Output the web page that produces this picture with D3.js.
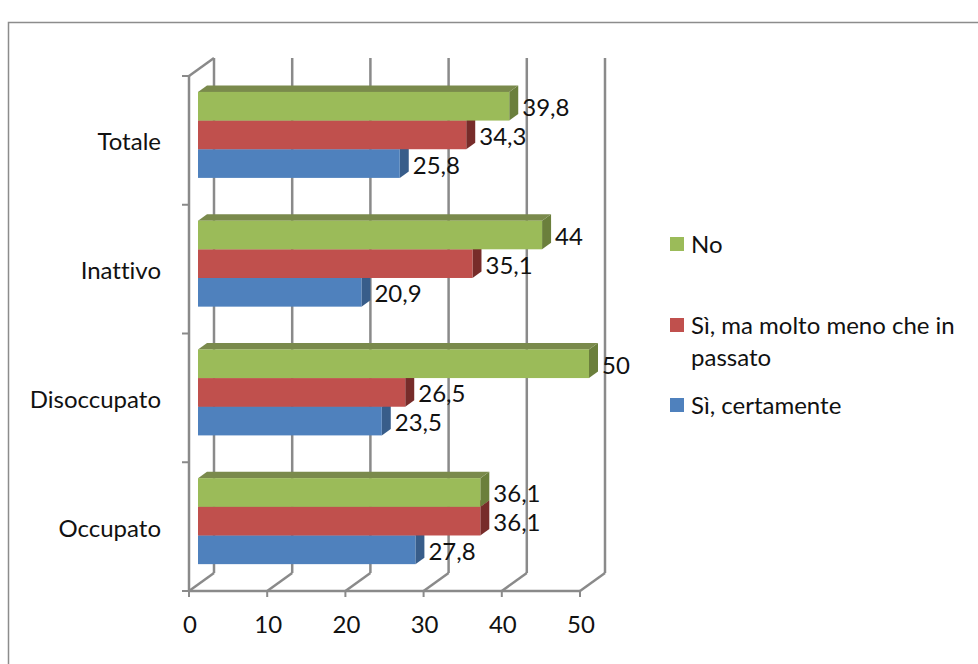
<!DOCTYPE html>
<html>
<head>
<meta charset="utf-8">
<script src="https://cdn.jsdelivr.net/npm/d3@7/dist/d3.min.js"></script>
<style>
  html, body { margin: 0; padding: 0; background: #fff; }
  svg { display: block; font-family: Lato, "Open Sans", sans-serif; font-variant-ligatures: none; }
  text { fill: #111; }
</style>
</head>
<body>
<svg id="chart" width="978" height="664"></svg>
<script>
// Categories, top to bottom
const categories = ["Totale", "Inattivo", "Disoccupato", "Occupato"];
// Series, drawn top to bottom inside each group
const seriesNames = ["No", "Sì, ma molto meno che in passato", "Sì, certamente"];
const seriesNo = [39.8, 44, 50, 36.1];
const seriesMa = [34.3, 35.1, 26.5, 36.1];
const seriesCert = [25.8, 20.9, 23.5, 27.8];
const xTicks = [0, 10, 20, 30, 40, 50];

const seriesValues = [seriesNo, seriesMa, seriesCert];
const faceColors = ["#9bbb59", "#c0504d", "#4f81bd"];
const sideColors = ["#6b7f3c", "#772c2a", "#385d8a"];
const topColors  = ["#7a8a4c", "#8f3c3a", "#3c6495"];

const FS = 24;
const svg = d3.select("#chart");

// Front plane of the 3D box
const x = d3.scaleLinear().domain([0, 50]).range([189, 580]);
const yTop = 76, yBot = 591;
const y = d3.scaleBand().domain(categories).range([yTop, yBot])
  .paddingInner(0.332).paddingOuter(0.166);
const ySub = d3.scaleBand().domain(d3.range(seriesNames.length)).range([0, y.bandwidth()]);

// Depth vector (front to back wall)
const DX = 25, DY = -18;
const grid = "#8a8a8a";

// Outer frame
svg.append("rect").attr("x", 8.5).attr("y", 22.5).attr("width", 1000).attr("height", 700)
  .attr("fill", "none").attr("stroke", "#8c8c8c").attr("stroke-width", 1.5);

const g = svg.append("g");

// Back wall gridlines and floor diagonals
xTicks.forEach(t => {
  g.append("line")
    .attr("x1", x(t) + DX).attr("x2", x(t) + DX)
    .attr("y1", yTop + DY).attr("y2", yBot + DY)
    .attr("stroke", grid).attr("stroke-width", 2.5);
  g.append("line")
    .attr("x1", x(t)).attr("y1", yBot)
    .attr("x2", x(t) + DX).attr("y2", yBot + DY)
    .attr("stroke", grid).attr("stroke-width", 2.5);
});
// Side wall top edge and front edge
g.append("line").attr("x1", x(0)).attr("y1", yTop).attr("x2", x(0) + DX).attr("y2", yTop + DY)
  .attr("stroke", grid).attr("stroke-width", 2.5);
g.append("line").attr("x1", x(0)).attr("y1", yTop).attr("x2", x(0)).attr("y2", yBot)
  .attr("stroke", grid).attr("stroke-width", 2.5);
// Front floor edge (value axis)
g.append("line").attr("x1", x(0)).attr("y1", yBot).attr("x2", x(50)).attr("y2", yBot)
  .attr("stroke", grid).attr("stroke-width", 2.5);
xTicks.forEach(t => {
  g.append("line").attr("x1", x(t)).attr("x2", x(t)).attr("y1", yBot).attr("y2", yBot + 6)
    .attr("stroke", grid).attr("stroke-width", 2);
});
// Category axis ticks
const catEdges = categories.map(c => y(c) - y.step() * y.paddingInner() / 2).concat([yBot]);
catEdges.forEach(v => {
  g.append("line").attr("x1", x(0) - 7).attr("x2", x(0)).attr("y1", v).attr("y2", v)
    .attr("stroke", grid).attr("stroke-width", 2);
});

// Bars sit at a depth fraction between the front plane and the back wall
const d0 = 0.36, d1 = 0.72;
const ox = d0 * DX, oy = d0 * DY + 1;
const ddx = (d1 - d0) * DX, ddy = (d1 - d0) * DY;

const bars = svg.append("g");
categories.forEach((cat, ci) => {
  // bottom series first so the bar above covers the side face beneath it
  for (let si = seriesNames.length - 1; si >= 0; si--) {
    const v = seriesValues[si][ci];
    const x0 = x(0) + ox, x1 = x(v) + ox;
    const t = y(cat) + ySub(si) + oy, b = t + ySub.bandwidth();
    bars.append("path")
      .attr("d", `M${x1},${t}L${x1 + ddx},${t + ddy}L${x1 + ddx},${b + ddy}L${x1},${b}Z`)
      .attr("fill", sideColors[si]);
    bars.append("path")
      .attr("d", `M${x0},${t}L${x0 + ddx},${t + ddy}L${x1 + ddx},${t + ddy}L${x1},${t}Z`)
      .attr("fill", topColors[si]);
    bars.append("rect").attr("x", x0).attr("y", t).attr("width", x1 - x0).attr("height", b - t)
      .attr("fill", faceColors[si]);
  }
});

// Value labels
const labels = svg.append("g").attr("font-size", FS);
categories.forEach((cat, ci) => {
  seriesNames.forEach((s, si) => {
    const v = seriesValues[si][ci];
    const t = y(cat) + ySub(si) + oy;
    labels.append("text")
      .attr("x", x(v) + ox + ddx + 4)
      .attr("y", t + ySub.bandwidth() / 2 + 10)
      .text(d3.format(".1f")(v).replace(/\.0$/, "").replace(".", ","));
  });
});

// Category labels
const catLabels = svg.append("g").attr("font-size", FS).attr("text-anchor", "end");
categories.forEach(cat => {
  catLabels.append("text")
    .attr("x", 161)
    .attr("y", y(cat) + y.bandwidth() / 2 + 10)
    .text(cat);
});

// Value axis labels
const xLabels = svg.append("g").attr("font-size", FS).attr("text-anchor", "middle");
xTicks.forEach(t => {
  xLabels.append("text").attr("x", x(t) + 1).attr("y", 633).text(t);
});

// Legend
const legendRows = [
  { lines: ["No"], y: 237 },
  { lines: ["Sì, ma molto meno che in", "passato"], y: 318 },
  { lines: ["Sì, certamente"], y: 398 }
];
const legend = svg.append("g").attr("font-size", FS);
legendRows.forEach((r, i) => {
  legend.append("rect").attr("x", 670).attr("y", r.y).attr("width", 14).attr("height", 14)
    .attr("fill", faceColors[i]);
  r.lines.forEach((ln, li) => {
    legend.append("text").attr("x", 691).attr("y", r.y + 16 + li * 32).text(ln);
  });
});
</script>
</body>
</html>
